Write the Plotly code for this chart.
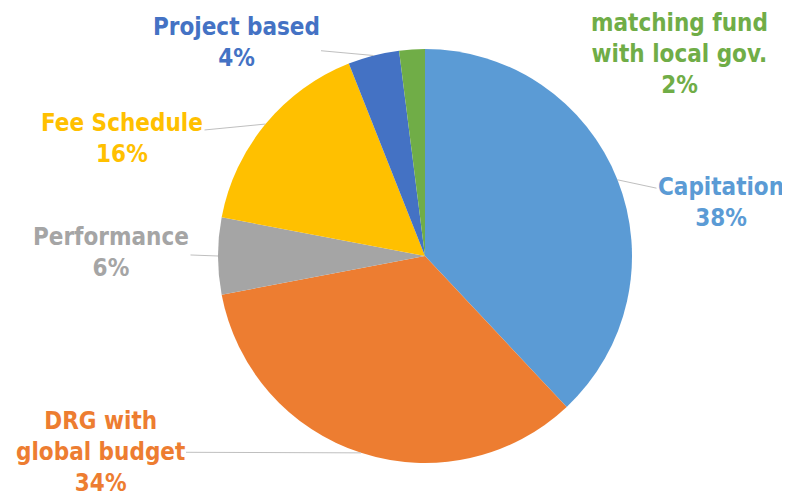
import numpy as np
import plotly.graph_objects as go

# payment methods, share in percent (clockwise from 12 o'clock)
labels = ["Capitation", "DRG with<br>global budget", "Performance",
          "Fee Schedule", "Project based", "matching fund<br>with local gov."]
values = [38, 34, 6, 16, 4, 2]
colors = ["#5B9BD5", "#ED7D31", "#A5A5A5", "#FFC000", "#4472C4", "#70AD47"]

# where each label sits (pixel centre of the text block in the window)
label_pos = [(721, 202), (100, 452), (111, 252), (122, 138), (236, 43), (679, 54)]
show_line = [True, True, True, True, True, False]

# the page body adds an 8px margin, so the figure is drawn 8px in
OFF = 8
W, H = 790 - OFF, 498 - OFF
cx, cy, r = 425 - OFF, 256 - OFF, 207

fig = go.Figure()
fig.add_trace(go.Pie(
    labels=labels, values=values, sort=False, direction="clockwise", rotation=0,
    marker=dict(colors=colors, line=dict(width=0)),
    textinfo="none", hoverinfo="label+percent", showlegend=False,
    domain=dict(x=[(cx - r) / W, (cx + r) / W], y=[1 - (cy + r) / H, 1 - (cy - r) / H]),
))

font_family = "DejaVu Sans Condensed"
total = sum(values)
cum = np.cumsum([0] + values)
for i, lab in enumerate(labels):
    mid = (cum[i] + cum[i + 1]) / 2 / total * 2 * np.pi
    tx = cx + r * np.sin(mid)
    ty = cy - r * np.cos(mid)
    lx, ly = label_pos[i][0] - OFF, label_pos[i][1] - OFF
    txt = f"<b>{lab}<br>{values[i]}%</b>"
    font = dict(family=font_family, size=24, color=colors[i])
    if show_line[i]:
        fig.add_annotation(
            x=tx / W, y=1 - ty / H, xref="paper", yref="paper",
            ax=lx - tx, ay=ly - ty, text=txt,
            showarrow=True, arrowhead=0, arrowwidth=1, arrowcolor="#BFBFBF",
            font=font, align="center",
        )
    else:
        fig.add_annotation(
            x=lx / W, y=1 - ly / H, xref="paper", yref="paper", text=txt,
            xanchor="center", yanchor="middle",
            showarrow=False, align="center", font=font,
        )

fig.update_layout(
    width=W, height=H, margin=dict(l=0, r=0, t=0, b=0),
    paper_bgcolor="white", plot_bgcolor="white",
)
fig.write_html("out.html")
